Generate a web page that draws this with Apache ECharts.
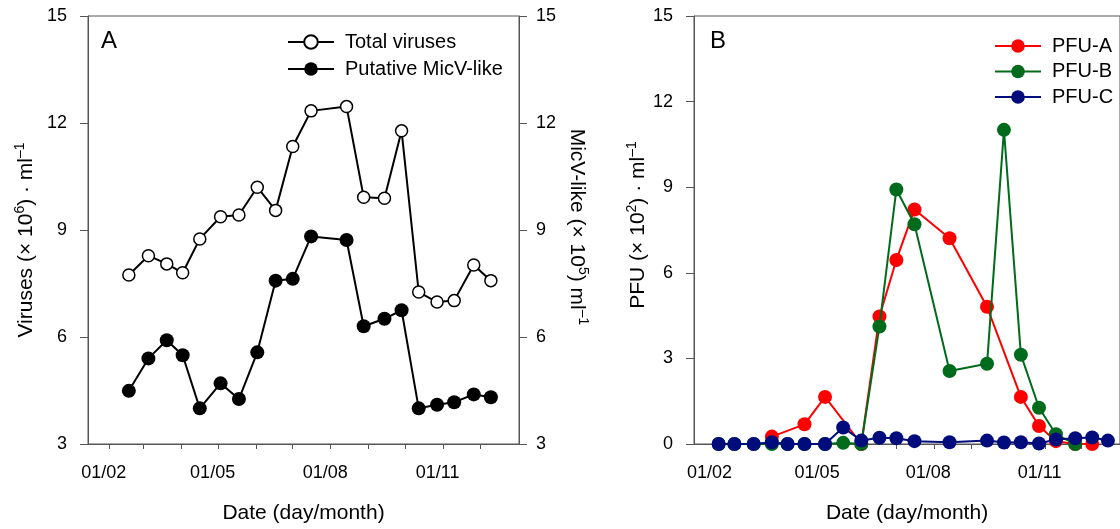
<!DOCTYPE html>
<html><head><meta charset="utf-8">
<script src="https://cdn.jsdelivr.net/npm/echarts@6/dist/echarts.min.js"></script>
<style>html,body{margin:0;padding:0;background:#fff}#c{width:1120px;height:529px}</style>
</head><body><div id="c"></div>
<script>
// ---- data (day/month) ----
const sampleDates = ['04/02','17/02','05/03','20/03','02/04','16/04','03/05','18/05','02/06','17/06','01/07','16/07','14/08','28/08','14/09','28/09','12/10','27/10','10/11','26/11','10/12','23/12'];
const totalViruses = [null,7.74,8.28,8.05,7.80,8.75,9.37,9.42,10.20,9.55,11.34,12.34,12.46,9.92,9.89,11.78,7.26,6.98,7.02,8.02,7.58,null];
const micvLike     = [null,4.49,5.40,5.91,5.49,4.00,4.70,4.26,5.57,7.58,7.63,8.82,8.72,6.30,6.51,6.75,4.00,4.10,4.17,4.39,4.31,null];
const pfuA = [null,null,null,0.26,null,0.69,1.65,null,0.00,4.47,6.45,8.22,7.21,null,4.81,null,1.65,0.63,0.10,0.00,0.00,null];
const pfuB = [0,0,0,0,0,0,0,0.04,0,4.12,8.92,7.70,2.56,null,2.81,11.01,3.13,1.27,0.34,0.00,null,null];
const pfuC = [0,0,0,0.06,0,0,0,0.58,0.12,0.22,0.20,0.10,0.06,null,0.12,0.05,0.06,0.02,0.16,0.20,0.23,0.12];
const xTickLabels = ['01/02','01/05','01/08','01/11'];
const monthTickLabels = ['01/02','01/03','01/04','01/05','01/06','01/07','01/08','01/09','01/10','01/11','01/12'];
const YEAR = 2011;

function dayOf(s){ const p = s.split('/').map(Number); return (Date.UTC(YEAR,p[1]-1,p[0]) - Date.UTC(YEAR,0,1))/86400000; }
function pairs(arr){ return sampleDates.map((s,i)=>[dayOf(s), arr[i]]).filter(p=>p[1]!==null); }
const labelDays = xTickLabels.map(dayOf);
const tickDays = monthTickLabels.map(dayOf);

const FONT = 'Liberation Sans, Arial, Helvetica, sans-serif';
const AX = '#555';

function xAxisFor(grid){
  return {
    type:'value', gridIndex:grid, min:13.6, max:366,
    axisLine:{show:true, onZero:false, lineStyle:{color:AX, width:1}},
    axisTick:{show:true, customValues:tickDays, length:5, lineStyle:{color:AX}},
    axisLabel:{customValues:labelDays, formatter:(v)=>{ const i = labelDays.indexOf(Math.round(v)); return i>=0?xTickLabels[i]:''; },
      fontSize:18, color:'#000', fontFamily:FONT, margin:20, padding:[0,11,0,0]},
    splitLine:{show:false},
    name:'Date (day/month)', nameLocation:'middle', nameGap:59,
    nameTextStyle:{fontSize:21, color:'#000', fontFamily:FONT}
  };
}
function richName(fs, pad){
  return {fontSize:fs, color:'#000', fontFamily:FONT, padding:pad,
    rich:{a:{fontSize:fs, lineHeight:26, color:'#000', fontFamily:FONT},
          s:{fontSize:14, lineHeight:14, verticalAlign:'top', color:'#000', fontFamily:FONT}}};
}
function yAxisFor(grid, min, pos, name, rot, gap, pad){
  return {
    type:'value', gridIndex:grid, min:min, max:15, interval:3, position:pos,
    axisLine:{show:true, lineStyle:{color:AX, width:1}},
    axisTick:{show:true, length:8, lineStyle:{color:AX}},
    axisLabel:{fontSize:18, color:'#000', fontFamily:FONT, margin: pos==='left'?21:17},
    splitLine:{show:false},
    name:name, nameLocation:'middle', nameRotate:rot, nameGap:gap,
    nameTextStyle:richName(21, pad)
  };
}

const chart = echarts.init(document.getElementById('c'), null, {renderer:'canvas'});
chart.setOption({
  animation:false,
  backgroundColor:'#fff',
  textStyle:{fontFamily:FONT},
  title:[
    {text:'A', left:96, top:24, textStyle:{fontSize:24, fontWeight:'normal', color:'#000', fontFamily:FONT}},
    {text:'B', left:705, top:24, textStyle:{fontSize:24, fontWeight:'normal', color:'#000', fontFamily:FONT}}
  ],
  grid:[
    {left:88, right:601, top:16, bottom:83, show:true, borderColor:AX, borderWidth:1, containLabel:false},
    {left:694, right:-5, top:16, bottom:83, show:true, borderColor:AX, borderWidth:1, containLabel:false}
  ],
  legend:[
    {data:['Total viruses','Putative MicV-like'], orient:'vertical', left:282, top:27, itemWidth:46, itemHeight:17, itemGap:7,
      textStyle:{fontSize:20, color:'#000', fontFamily:FONT, padding:[0,0,0,6]}},
    {data:['PFU-A','PFU-B','PFU-C'], orient:'vertical', left:989, top:31, itemWidth:46, itemHeight:17, itemGap:5.5,
      textStyle:{fontSize:20, color:'#000', fontFamily:FONT, padding:[0,0,0,6]}}
  ],
  xAxis:[xAxisFor(0), xAxisFor(1)],
  yAxis:[
    yAxisFor(0, 3, 'left', '{a|Viruses (× 10}{s|6}{a|) · ml}{s|–1}', 90, 49, [0,20,0,0]),
    yAxisFor(0, 3, 'right', '{a|MicV-like (× 10}{s|5}{a|) ml}{s|–1}', -90, 45, [0,6,0,0]),
    yAxisFor(1, 0, 'left', '{a|PFU (× 10}{s|2}{a|) · ml}{s|–1}', 90, 21, [0,0,0,10])
  ],
  series:[
    {name:'Total viruses', type:'line', xAxisIndex:0, yAxisIndex:0, data:pairs(totalViruses),
      symbol:'circle', symbolSize:12, lineStyle:{color:'#000', width:2},
      itemStyle:{color:'#fff', borderColor:'#000', borderWidth:1.5}, z:3},
    {name:'Putative MicV-like', type:'line', xAxisIndex:0, yAxisIndex:1, data:pairs(micvLike),
      symbol:'circle', symbolSize:14, lineStyle:{color:'#000', width:2},
      itemStyle:{color:'#000'}, z:3},
    {name:'PFU-A', type:'line', xAxisIndex:1, yAxisIndex:2, data:pairs(pfuA),
      symbol:'circle', symbolSize:14, lineStyle:{color:'#ff0000', width:2}, itemStyle:{color:'#ff0000'}, z:3},
    {name:'PFU-B', type:'line', xAxisIndex:1, yAxisIndex:2, data:pairs(pfuB),
      symbol:'circle', symbolSize:14, lineStyle:{color:'#006b1c', width:2}, itemStyle:{color:'#006b1c'}, z:4},
    {name:'PFU-C', type:'line', xAxisIndex:1, yAxisIndex:2, data:pairs(pfuC),
      symbol:'circle', symbolSize:14, lineStyle:{color:'#000c7c', width:2}, itemStyle:{color:'#000c7c'}, z:5}
  ]
});
</script></body></html>
